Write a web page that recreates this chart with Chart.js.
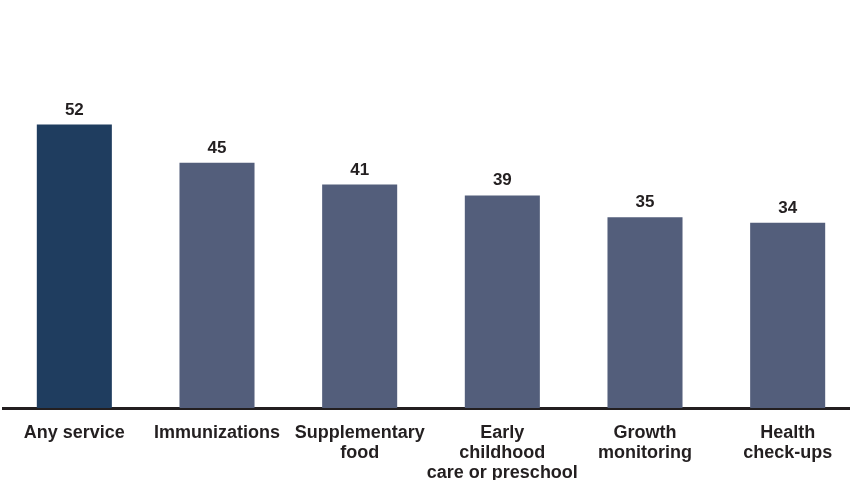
<!DOCTYPE html>
<html>
<head>
<meta charset="utf-8">
<script src="https://cdn.jsdelivr.net/npm/chart.js@4"></script>
<style>
  html, body { margin: 0; padding: 0; background: #fff; overflow: hidden; }
  #wrap { position: relative; width: 860px; height: 480px; }
</style>
</head>
<body>
<div id="wrap"><canvas id="grafico"></canvas></div>
<script>
// data
const categorias = [
  'Any service',
  'Immunizations',
  ['Supplementary', 'food'],
  ['Early', 'childhood', 'care or preschool'],
  ['Growth', 'monitoring'],
  ['Health', 'check-ups']
];
const valores = [52, 45, 41, 39, 35, 34];
const cores = ['#1f3d5f', '#535e7b', '#535e7b', '#535e7b', '#535e7b', '#535e7b'];

// value labels above the bars
const rotulosValores = {
  id: 'rotulosValores',
  afterDatasetsDraw(chart) {
    const ctx = chart.ctx;
    const meta = chart.getDatasetMeta(0);
    ctx.save();
    ctx.font = 'bold 17px "Liberation Sans", Arial, sans-serif';
    ctx.fillStyle = '#231f20';
    ctx.textAlign = 'center';
    ctx.textBaseline = 'alphabetic';
    meta.data.forEach(function(bar, i) {
      ctx.fillText(String(valores[i]), bar.x, bar.y - 10);
    });
    ctx.restore();
  }
};

const config = {
  type: 'bar',
  data: {
    labels: categorias,
    datasets: [{
      data: valores,
      backgroundColor: cores,
      borderWidth: 0,
      barPercentage: 0.526,
      categoryPercentage: 1
    }]
  },
  options: {
    responsive: true,
    maintainAspectRatio: false,
    animation: false,
    layout: { padding: { top: 81, left: 3, right: 1, bottom: 0 } },
    plugins: {
      legend: { display: false },
      title: { display: false },
      tooltip: { enabled: false }
    },
    scales: {
      x: {
        grid: { display: false, drawTicks: false },
        border: { display: true, color: '#231f20', width: 3 },
        afterFit: function(scale) { scale.height = 72; },
        ticks: {
          autoSkip: false,
          maxRotation: 0,
          minRotation: 0,
          padding: 15,
          color: '#231f20',
          font: { family: '"Liberation Sans", Arial, sans-serif', size: 18, weight: 'bold', lineHeight: 1.12 }
        }
      },
      y: {
        display: false,
        min: 0,
        max: 60
      }
    }
  },
  plugins: [rotulosValores]
};

var meuGrafico = new Chart(document.getElementById('grafico'), config);
</script>
</body>
</html>
